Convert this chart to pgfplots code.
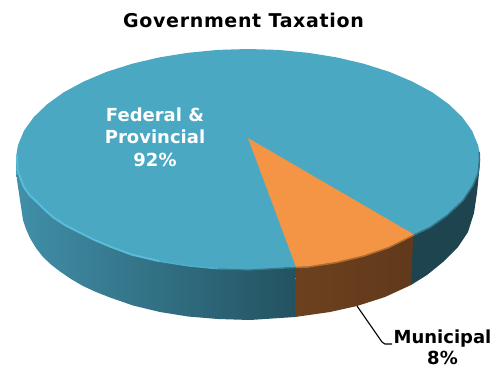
\documentclass[border=0pt]{standalone}
\usepackage{pgfplots}
\pgfplotsset{compat=1.18}
\usepackage{fontspec}
\setmainfont{DejaVu Sans}
\definecolor{topblue}{HTML}{4AA8C3}
\definecolor{toporange}{HTML}{F39544}
\definecolor{sidedark}{HTML}{1E4450}
\definecolor{sidebrownA}{HTML}{6C411E}
\definecolor{sidebrownB}{HTML}{61391B}
\definecolor{sideblueA}{HTML}{418FA9}
\definecolor{sideblueB}{HTML}{367A8E}
\definecolor{sideblueC}{HTML}{235260}
\definecolor{rimlight}{HTML}{58BCDA}
\definecolor{rimmid}{HTML}{4FAECB}
\begin{document}
\begin{tikzpicture}
\begin{axis}[
  hide axis, scale only axis, width=500bp, height=369bp,
  xmin=0, xmax=500, ymin=0, ymax=369, y dir=reverse, clip=false]
% page frame
\path (axis cs:0,0) rectangle (axis cs:500,369);
% outer wall, right of the orange slice
\addplot[fill=sidedark, draw=none] coordinates {
 (479.5,152) (480,163) (478.5,178) (477,193) (474,213) (468,232) (458,247) (443,262) (427,275) (411,285) (411,200)} --cycle;
% outer wall of the orange slice
\addplot[left color=sidebrownA, right color=sidebrownB, draw=none] coordinates {
 (296,240) (295,317) (330,312) (357,306) (385,297) (411,285) (414,220)} --cycle;
% outer wall, left of the orange slice
\addplot[left color=sideblueA, middle color=sideblueB, right color=sideblueC, draw=none] coordinates {
 (16,157) (16,167) (17,180) (18.5,190) (20,200) (23,220) (26,229) (30,238) (36,248) (43,257) (51,264.5) (60,271.5) (71,279) (83,286) (96,292) (110,297.5) (133,305.5) (160,312) (188,316.5) (218,319) (250,320) (295,317) (296,200)} --cycle;
% top face
\addplot[fill=topblue, draw=none] coordinates {
 (480,159.5) (479.5,152) (478,145.1) (472.1,130.9) (462.3,117.2) (448.9,104.3) (432.1,92.2) (412,81.4) (389.2,71.8) (364,63.8) (336.8,57.4) (308,52.8) (278.3,49.9) (248,49)
 (217.7,49.9) (188,52.8) (159.2,57.4) (132,63.8) (106.8,71.8) (84,81.4) (63.9,92.2) (47.1,104.3) (33.7,117.2) (23.9,130.9) (18,145.1) (16,157)
 (17,170) (23,187) (29,195.5) (37,203) (45,211) (53,218) (64.5,225.5) (77,232) (93,240) (110,247) (132,255.2) (159.2,261.6) (188,266.2) (217.7,269.1) (248,270) (296,267)
 (308,266.5) (336.8,262) (364,255.5) (389,247) (414,234.5) (430,227) (447,215) (463,200) (473,185) (478,173)} --cycle;
% orange slice on the top face
\addplot[fill=toporange, draw=none] coordinates {
 (248,138) (296,267) (308,266.5) (336.8,262) (364,255.5) (389,247) (414,234.5)} --cycle;
% soft rims along the front edge
\addplot[rimlight, line width=2bp] coordinates {
 (17,155) (17.5,170) (23.5,186.5) (29.5,195) (37.5,202.5) (45.5,210.5) (53.5,217.5) (65,225) (77.5,231.5) (93.5,239.5) (110,246.5) (132,254.7) (159.2,261.1)};
\addplot[rimmid, line width=1.6bp] coordinates {
 (159.2,261.1) (188,265.7) (217.7,268.6)};
\addplot[color=sideblueB, line width=1.2bp] coordinates {
 (217.7,269.1) (248,270) (296,267.5)};
\addplot[color=toporange!55!sidebrownB, line width=1.5bp] coordinates {
 (296,267.5) (308,267) (336.8,262.5) (364,256) (389,247.5) (414,235)};
\addplot[color=topblue!50!sidedark, line width=1.5bp] coordinates {
 (414,235) (430,227.5) (447,215.5) (463,200.5) (473,185.5) (478,173.5) (479.5,160) (479.2,152)};
% leader to the small slice
\addplot[black, line width=1.1bp] coordinates {(357,306) (382,342) (385,344) (392,344)};
\node[font=\fontsize{19bp}{22bp}\selectfont\bfseries\addfontfeatures{LetterSpace=3.5}, black] at (axis cs:243.5,20) {Government Taxation};
\node[font=\fontsize{18bp}{22.5bp}\selectfont\bfseries, white, align=center] at (axis cs:155,137) {Federal \&\\Provincial\\92\%};
\node[font=\fontsize{18bp}{21bp}\selectfont\bfseries, black, align=center] at (axis cs:442.5,347.5) {Municipal\\8\%};
\end{axis}
\end{tikzpicture}
\end{document}
